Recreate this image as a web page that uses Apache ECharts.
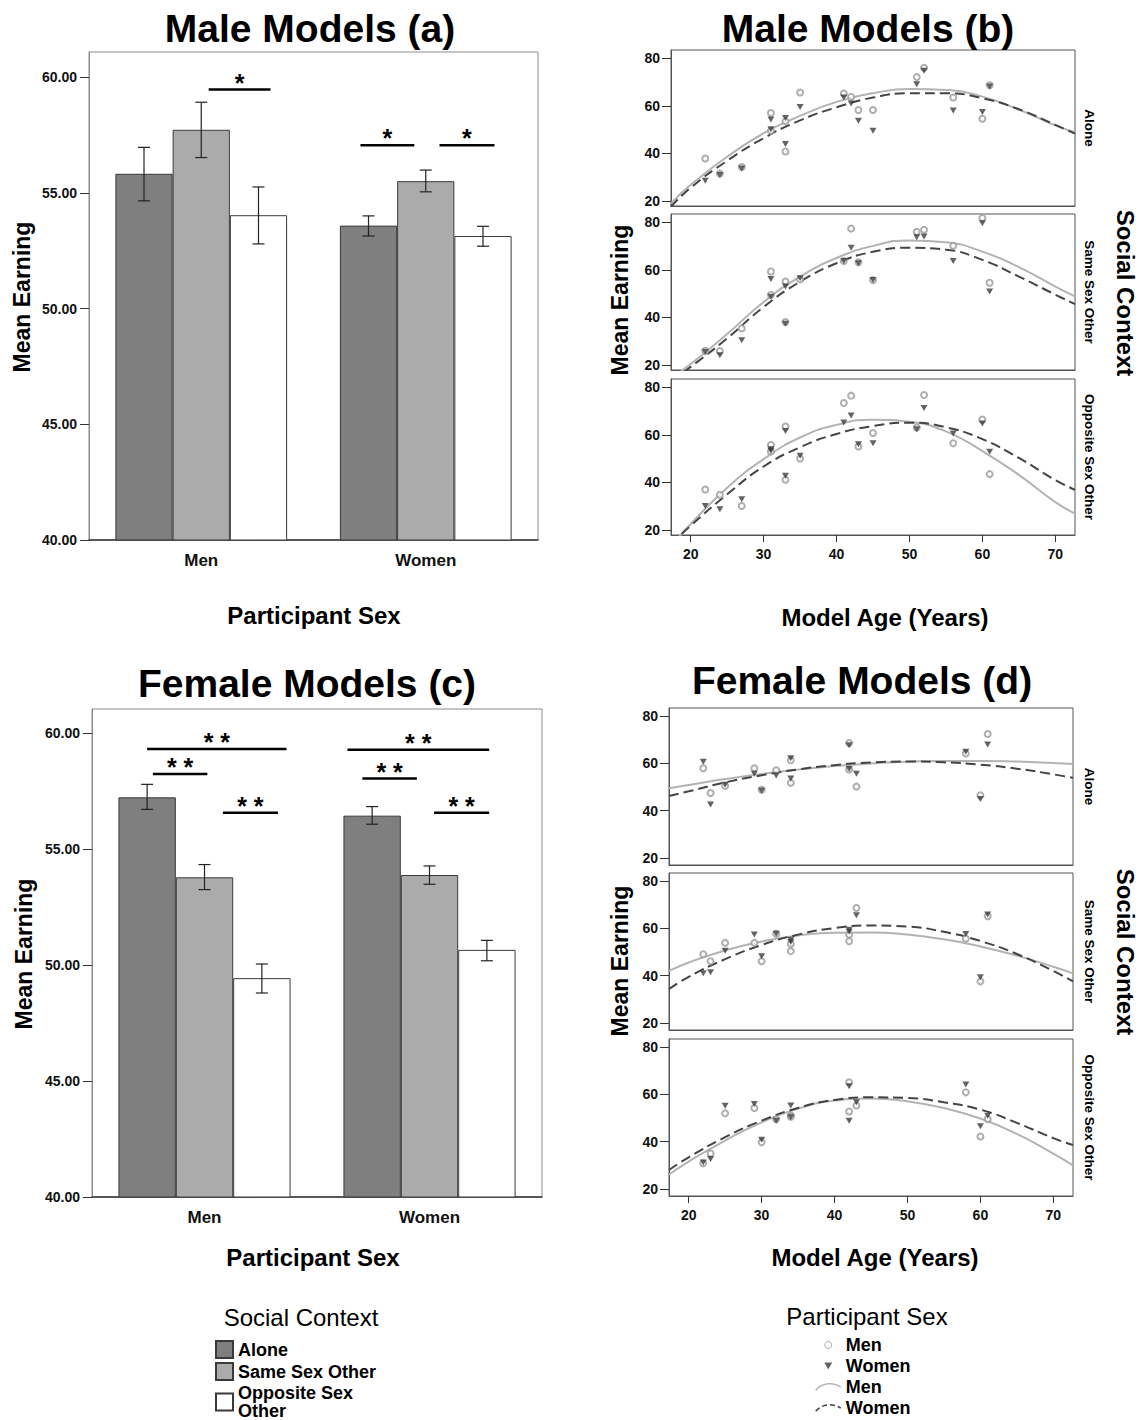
<!DOCTYPE html>
<html><head><meta charset="utf-8">
<script src="https://cdn.jsdelivr.net/npm/echarts@6/dist/echarts.min.js"></script>
<style>html,body{margin:0;padding:0;background:#fff;overflow:hidden}#c{width:1139px;height:1420px}</style>
</head><body><div id="c"></div>
<script>
// ================= DATA =================
const participantSex = ['Men', 'Women'];
const socialContexts = ['Alone', 'Same Sex Other', 'Opposite Sex Other'];
const barTicks = [40, 45, 50, 55, 60];
const ageTicks = [20, 30, 40, 50, 60, 70];
const earningTicks = [20, 40, 60, 80];

// (a) Male models: mean earning for [Men, Women] participants
const maleAloneMean = [55.82, 53.58];
const maleSameMean = [57.72, 55.50];
const maleOppositeMean = [54.03, 53.13];
const maleAloneCI = [[54.65, 56.96], [53.13, 54.00]];
const maleSameCI = [[56.52, 58.91], [55.04, 55.98]];
const maleOppositeCI = [[52.79, 55.25], [52.69, 53.55]];
// significance: [participant index, from bar position, to bar position, value]
const maleSig = [[0, 1.13, 2.21, 59.46], [1, -0.14, 0.80, 57.05], [1, 1.24, 2.20, 57.05]];
const maleSigText = ['*', '*', '*'];

// (c) Female models
const femaleAloneMean = [57.24, 56.45];
const femaleSameMean = [53.79, 53.89];
const femaleOppositeMean = [49.44, 50.66];
const femaleAloneCI = [[56.72, 57.80], [56.08, 56.84]];
const femaleSameCI = [[53.26, 54.34], [53.49, 54.28]];
const femaleOppositeCI = [[48.80, 50.05], [50.19, 51.07]];
const femaleSig = [[0, 0.00, 2.43, 59.32], [0, 0.10, 1.05, 58.25], [0, 1.32, 2.28, 56.58],
                   [1, -0.43, 2.04, 59.29], [1, -0.17, 0.78, 58.05], [1, 1.08, 2.04, 56.58]];
const femaleSigText = ['* *', '* *', '* *', '* *', '* *', '* *'];

// (b) Male models by age
const maleModelAges = [22, 24, 27, 31, 31, 33, 33, 35, 41, 42, 43, 45, 51, 52, 56, 60, 61];
const maleAloneMen = [37.9, 31.5, 34.3, 57.0, 49.5, 53.5, 40.8, 65.6, 65.2, 63.8, 58.3, 58.3, 72.1, 76.0, 63.5, 54.6, 68.7];
const maleAloneWomen = [28.5, 30.9, 33.7, 54.3, 50.2, 54.9, 44.0, 59.5, 63.5, 61.0, 53.7, 49.5, 69.1, 74.8, 58.1, 57.4, 68.2];
const maleSameMen = [26.0, 25.9, 35.4, 59.3, 49.5, 55.1, 38.1, 56.0, 63.7, 77.4, 63.2, 55.7, 76.0, 76.9, 70.1, 81.8, 54.6];
const maleSameWomen = [25.5, 24.1, 30.4, 56.2, 48.7, 53.0, 37.4, 56.5, 63.7, 69.3, 62.8, 55.7, 73.7, 74.0, 63.7, 79.6, 50.9];
const maleOppMen = [37.0, 34.8, 30.1, 55.8, 53.0, 63.5, 41.1, 50.1, 73.4, 76.5, 55.1, 60.8, 63.1, 76.8, 56.5, 66.5, 43.5];
const maleOppWomen = [30.1, 28.7, 32.9, 53.3, 54.0, 61.6, 42.8, 51.2, 65.2, 68.1, 56.1, 56.5, 62.4, 71.3, 60.6, 64.8, 52.9];

// (d) Female models by age
const femaleModelAges = [22, 23, 25, 29, 30, 32, 34, 34, 42, 42, 43, 58, 60, 61];
const femaleAloneMen = [58.0, 47.5, 50.5, 58.0, 48.9, 57.1, 61.4, 51.8, 68.7, 57.4, 50.2, 64.2, 46.5, 72.5];
const femaleAloneWomen = [60.7, 42.6, 51.0, 55.7, 48.4, 54.9, 62.2, 53.6, 67.7, 57.7, 55.7, 65.0, 45.0, 68.0];
const femaleSameMen = [49.1, 46.1, 53.9, 53.9, 46.1, 57.8, 53.5, 50.4, 57.4, 54.6, 68.7, 55.7, 37.6, 65.2];
const femaleSameWomen = [41.0, 41.5, 50.6, 57.4, 48.2, 57.8, 54.3, 55.2, 59.5, 58.6, 65.6, 57.7, 39.3, 65.9];
const femaleOppMen = [30.9, 35.0, 52.0, 54.3, 39.8, 49.5, 51.1, 50.6, 65.2, 52.8, 55.3, 60.9, 42.2, 49.6];
const femaleOppWomen = [31.2, 32.7, 55.2, 56.0, 40.8, 48.9, 55.3, 50.4, 63.5, 48.9, 56.7, 64.2, 46.5, 51.0];

// fitted curves
const fitAges = [17.3, 20, 25, 30, 35, 40, 45, 50, 55, 60, 65, 70, 72.7];
const maleAloneMenFit = [19.0, 26.8, 38.6, 48.5, 55.8, 61.7, 65.3, 67.1, 66.7, 63.9, 58.4, 51.8, 48.9];
const maleAloneWomenFit = [17.6, 25.6, 36.9, 46.4, 53.9, 59.4, 63.5, 65.3, 65.3, 63.2, 58.6, 52.0, 48.3];
const maleSameMenFit = [14.5, 20.4, 33.0, 46.5, 57.2, 65.0, 70.1, 72.4, 71.6, 67.7, 61.2, 53.0, 48.9];
const maleSameWomenFit = [13.2, 19.2, 31.2, 44.4, 55.0, 62.8, 67.6, 69.3, 68.5, 64.2, 57.2, 49.6, 45.6];
const maleOppMenFit = [13.2, 22.5, 37.8, 49.8, 58.9, 64.2, 66.4, 65.5, 61.5, 53.2, 43.2, 31.7, 26.9];
const maleOppWomenFit = [14.0, 21.8, 35.0, 46.7, 54.8, 60.4, 63.7, 65.1, 63.2, 58.2, 50.3, 41.0, 36.9];
const femaleAloneMenFit = [49.5, 50.9, 53.4, 55.6, 57.4, 58.9, 60.0, 60.7, 61.1, 61.1, 60.8, 60.2, 59.8];
const femaleAloneWomenFit = [46.2, 48.2, 52.0, 55.0, 57.5, 59.3, 60.4, 60.8, 60.5, 59.5, 57.8, 55.4, 53.9];
const femaleSameMenFit = [42.0, 45.6, 50.7, 54.5, 57.0, 58.2, 58.3, 57.4, 55.4, 52.4, 48.5, 43.8, 41.0];
const femaleSameWomenFit = [34.3, 39.5, 47.0, 53.0, 57.4, 60.2, 61.3, 60.8, 58.6, 54.7, 49.2, 42.0, 37.6];
const femaleOppMenFit = [26.1, 31.6, 40.5, 48.2, 54.0, 57.4, 58.3, 57.1, 54.3, 49.8, 43.3, 35.0, 30.0];
const femaleOppWomenFit = [28.0, 33.4, 41.9, 48.9, 54.3, 57.7, 58.8, 58.5, 56.7, 53.6, 48.0, 41.5, 38.6];

// ================= STYLE / LAYOUT =================
const FONT = "'Liberation Sans', Arial, Helvetica, sans-serif";
const BAR_FRAC = 0.255;
const barColors = ['#7f7f7f', '#ababab', '#ffffff'];
const MEN_COLOR = '#9a9a9a', WOMEN_COLOR = '#3c3c3c', MEN_LINE = '#b3b3b3', WOMEN_LINE = '#444';

const grids = [], xAxes = [], yAxes = [], series = [];

function errorBarItem(params, api) {
  const cat = api.value(0), lo = api.value(1), hi = api.value(2), k = api.value(3);
  const bw = api.size([1, 0])[0] * BAR_FRAC;
  const b = api.coord([cat, lo]), t = api.coord([cat, hi]);
  const x = b[0] + (k - 1) * bw, cap = 6;
  const st = { stroke: '#222', lineWidth: 1.2, fill: null };
  return { type: 'group', children: [
    { type: 'line', shape: { x1: x, y1: t[1], x2: x, y2: b[1] }, style: st },
    { type: 'line', shape: { x1: x - cap, y1: t[1], x2: x + cap, y2: t[1] }, style: st },
    { type: 'line', shape: { x1: x - cap, y1: b[1], x2: x + cap, y2: b[1] }, style: st }
  ]};
}
function sigRenderer(texts) {
  return function (params, api) {
    const cat = api.value(0), p0 = api.value(1), p1 = api.value(2), v = api.value(3);
    const bw = api.size([1, 0])[0] * BAR_FRAC;
    const c = api.coord([cat, v]);
    const x0 = c[0] + (p0 - 1) * bw, x1 = c[0] + (p1 - 1) * bw;
    return { type: 'group', children: [
      { type: 'line', shape: { x1: x0, y1: c[1], x2: x1, y2: c[1] }, style: { stroke: '#000', lineWidth: 2.5 } },
      { type: 'text', x: (x0 + x1) / 2, y: c[1] - 7,
        style: { text: texts[params.dataIndex], fontSize: 25, fontWeight: 'bold', fill: '#000',
                 align: 'center', verticalAlign: 'middle', fontFamily: FONT } }
    ]};
  };
}

function addBarPanel(rect, yMax, means, cis, sig, sigText) {
  const gi = grids.length;
  grids.push(Object.assign({ show: true, borderColor: '#8c8c8c', borderWidth: 1 }, rect));
  xAxes.push({ gridIndex: gi, type: 'category', data: participantSex,
    axisLine: { lineStyle: { color: '#333', width: 1.5 } },
    axisTick: { alignWithLabel: true, length: 9, lineStyle: { color: '#333' } },
    axisLabel: { fontSize: 17, fontWeight: 'bold', color: '#111', margin: 12, fontFamily: FONT } });
  yAxes.push({ gridIndex: gi, type: 'value', min: 40, max: yMax,
    axisLine: { show: true, lineStyle: { color: '#8c8c8c' } },
    axisTick: { show: true, length: 9, customValues: barTicks, lineStyle: { color: '#333' } },
    axisLabel: { customValues: barTicks, formatter: v => v.toFixed(2), fontSize: 14, fontWeight: 'bold',
                 color: '#111', margin: 12, fontFamily: FONT },
    splitLine: { show: false } });
  means.forEach((m, i) => series.push({ type: 'bar', name: socialContexts[i], xAxisIndex: gi, yAxisIndex: gi,
    data: m, barWidth: (BAR_FRAC * 100) + '%', barGap: '0%',
    itemStyle: { color: barColors[i], borderColor: '#3a3a3a', borderWidth: 1 } }));
  const errData = [];
  cis.forEach((ci, k) => ci.forEach((r, c) => errData.push([c, r[0], r[1], k])));
  series.push({ type: 'custom', xAxisIndex: gi, yAxisIndex: gi, data: errData,
    encode: { x: 0, y: [1, 2] }, renderItem: errorBarItem, z: 5, silent: true });
  series.push({ type: 'custom', xAxisIndex: gi, yAxisIndex: gi, data: sig,
    encode: { x: 0, y: 3 }, renderItem: sigRenderer(sigText), z: 5, silent: true, clip: false });
}

function addScatterPanel(rect, yMin, showX, ages, menVals, womenVals, menFit, womenFit) {
  const gi = grids.length;
  grids.push(Object.assign({ show: true, borderColor: '#555', borderWidth: 1 }, rect));
  xAxes.push({ gridIndex: gi, type: 'value', min: 17.3, max: 72.7,
    axisLine: { show: true, onZero: false, lineStyle: { color: '#555' } },
    axisTick: { show: showX, length: 7, customValues: ageTicks, lineStyle: { color: '#333' } },
    axisLabel: { show: showX, customValues: ageTicks, fontSize: 14, fontWeight: 'bold', color: '#111',
                 margin: 12, fontFamily: FONT },
    splitLine: { show: false } });
  yAxes.push({ gridIndex: gi, type: 'value', min: yMin, max: 83.5,
    axisLine: { show: true, onZero: false, lineStyle: { color: '#555' } },
    axisTick: { show: true, length: 9, customValues: earningTicks, lineStyle: { color: '#333' } },
    axisLabel: { customValues: earningTicks, fontSize: 14, fontWeight: 'bold', color: '#111',
                 margin: 11, fontFamily: FONT },
    splitLine: { show: false } });
  series.push({ type: 'line', name: 'Men fit', xAxisIndex: gi, yAxisIndex: gi, smooth: true, symbol: 'none',
    data: fitAges.map((a, i) => [a, menFit[i]]), lineStyle: { color: MEN_LINE, width: 2 },
    itemStyle: { color: MEN_LINE }, z: 2 });
  series.push({ type: 'line', name: 'Women fit', xAxisIndex: gi, yAxisIndex: gi, smooth: true, symbol: 'none',
    data: fitAges.map((a, i) => [a, womenFit[i]]), lineStyle: { color: WOMEN_LINE, width: 2, type: [10, 5] },
    itemStyle: { color: WOMEN_LINE }, z: 2 });
  series.push({ type: 'scatter', name: 'Men', xAxisIndex: gi, yAxisIndex: gi, symbol: 'emptyCircle', symbolSize: 6,
    data: ages.map((a, i) => [a, menVals[i]]), itemStyle: { color: MEN_COLOR, borderWidth: 1 }, z: 3 });
  series.push({ type: 'scatter', name: 'Women', xAxisIndex: gi, yAxisIndex: gi, symbol: 'triangle', symbolRotate: 180,
    symbolSize: [7, 6], data: ages.map((a, i) => [a, womenVals[i]]), itemStyle: { color: WOMEN_COLOR }, z: 4 });
}

addBarPanel({ left: 89, top: 52, width: 449, height: 488 }, 61.08,
  [maleAloneMean, maleSameMean, maleOppositeMean], [maleAloneCI, maleSameCI, maleOppositeCI], maleSig, maleSigText);
addBarPanel({ left: 92, top: 709, width: 450, height: 488 }, 61.05,
  [femaleAloneMean, femaleSameMean, femaleOppositeMean], [femaleAloneCI, femaleSameCI, femaleOppositeCI], femaleSig, femaleSigText);

const bTops = [50, 214, 379], dTops = [708, 873, 1039];
addScatterPanel({ left: 671, top: bTops[0], width: 404, height: 156 }, 17.9, false, maleModelAges, maleAloneMen, maleAloneWomen, maleAloneMenFit, maleAloneWomenFit);
addScatterPanel({ left: 671, top: bTops[1], width: 404, height: 156 }, 17.9, false, maleModelAges, maleSameMen, maleSameWomen, maleSameMenFit, maleSameWomenFit);
addScatterPanel({ left: 671, top: bTops[2], width: 404, height: 156 }, 17.9, true, maleModelAges, maleOppMen, maleOppWomen, maleOppMenFit, maleOppWomenFit);
addScatterPanel({ left: 669, top: dTops[0], width: 404, height: 157 }, 17.0, false, femaleModelAges, femaleAloneMen, femaleAloneWomen, femaleAloneMenFit, femaleAloneWomenFit);
addScatterPanel({ left: 669, top: dTops[1], width: 404, height: 157 }, 17.0, false, femaleModelAges, femaleSameMen, femaleSameWomen, femaleSameMenFit, femaleSameWomenFit);
addScatterPanel({ left: 669, top: dTops[2], width: 404, height: 157 }, 17.0, true, femaleModelAges, femaleOppMen, femaleOppWomen, femaleOppMenFit, femaleOppWomenFit);

function txt(text, x, y, size, weight, rot) {
  return { type: 'text', x: x, y: y, rotation: rot || 0, silent: true,
    style: { text: text, fontSize: size, fontWeight: weight, fill: '#000', align: 'center',
             verticalAlign: 'middle', fontFamily: FONT } };
}
const R = Math.PI / 2;
const graphics = [
  txt('Male Models (a)', 310, 28, 39, 'bold'),
  txt('Male Models (b)', 868, 28, 39, 'bold'),
  txt('Female Models (c)', 307, 683, 39, 'bold'),
  txt('Female Models (d)', 862, 680, 39, 'bold'),
  txt('Participant Sex', 314, 615, 24, 'bold'),
  txt('Participant Sex', 313, 1257, 24, 'bold'),
  txt('Model Age (Years)', 885, 617, 24, 'bold'),
  txt('Model Age (Years)', 875, 1257, 24, 'bold'),
  txt('Mean Earning', 22, 297, 23, 'bold', R),
  txt('Mean Earning', 24, 954, 23, 'bold', R),
  txt('Mean Earning', 620, 300, 23, 'bold', R),
  txt('Mean Earning', 620, 961, 23, 'bold', R),
  txt('Social Context', 1125, 293, 24, 'bold', -R),
  txt('Social Context', 1125, 952, 24, 'bold', -R),
  txt('Social Context', 301, 1317, 24, 'normal'),
  txt('Participant Sex', 867, 1316, 24, 'normal')
];
bTops.forEach((t, i) => graphics.push(txt(socialContexts[i], 1089, t + 78, 13.5, 'bold', -R)));
dTops.forEach((t, i) => graphics.push(txt(socialContexts[i], 1089, t + 78.5, 13.5, 'bold', -R)));

const legendText = { fontSize: 18, fontWeight: 'bold', lineHeight: 18, color: '#000', fontFamily: FONT };
const option = {
  animation: false,
  backgroundColor: '#fff',
  textStyle: { fontFamily: FONT },
  grid: grids, xAxis: xAxes, yAxis: yAxes, series: series,
  legend: [
    { orient: 'vertical', left: 215, top: 1340, height: 120, padding: 0, itemWidth: 17, itemHeight: 17, itemGap: 3,
      icon: 'rect', selectedMode: false, data: socialContexts,
      formatter: n => (n === 'Opposite Sex Other' ? 'Opposite Sex\nOther' : n),
      textStyle: legendText },
    { orient: 'vertical', left: 815, top: 1336, height: 120, padding: 0, itemWidth: 25, itemHeight: 7, itemGap: 3,
      selectedMode: false,
      data: [
        { name: 'Men', icon: 'circle', itemStyle: { color: '#fff', borderColor: MEN_COLOR, borderWidth: 1 } },
        { name: 'Women', icon: 'path://M0,0 L10,0 L5,9 Z', itemStyle: { color: WOMEN_COLOR, borderWidth: 0 } },
        { name: 'Men fit', icon: 'path://M0,9 C7,1 18,1 25,6', itemStyle: { color: 'rgba(0,0,0,0)', borderColor: MEN_LINE, borderWidth: 1.5 } },
        { name: 'Women fit', icon: 'path://M0,9 C7,1 18,1 25,6', itemStyle: { color: 'rgba(0,0,0,0)', borderColor: WOMEN_LINE, borderWidth: 1.5, borderType: [5, 3] } }
      ],
      formatter: n => n.replace(' fit', ''),
      textStyle: legendText }
  ],
  graphic: { elements: graphics }
};
const chart = echarts.init(document.getElementById('c'), null, { renderer: 'svg' });
chart.setOption(option);
</script>
</body></html>
